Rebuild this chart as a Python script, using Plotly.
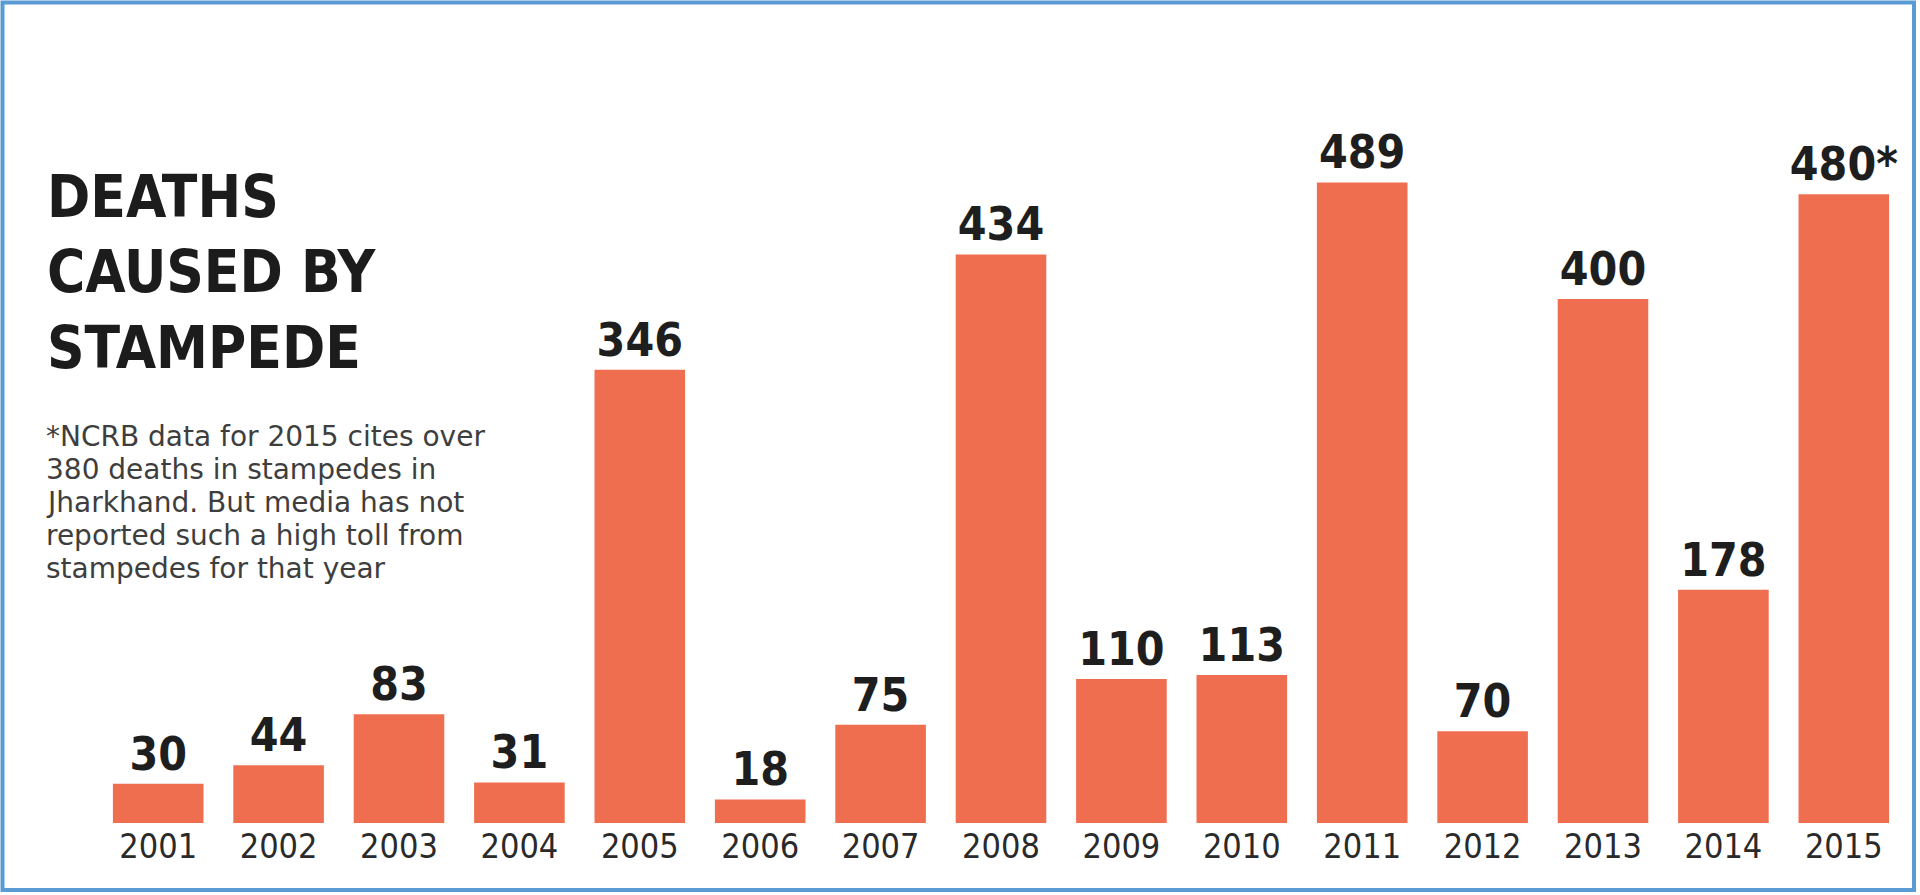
import plotly.graph_objects as go

# ---- data ----
years = [2001, 2002, 2003, 2004, 2005, 2006, 2007, 2008, 2009, 2010, 2011, 2012, 2013, 2014, 2015]
deaths = [30, 44, 83, 31, 346, 18, 75, 434, 110, 113, 489, 70, 400, 178, 480]
footnote_marks = ["", "", "", "", "", "", "", "", "", "", "", "", "", "", "*"]
year_labels = [str(y) for y in years]

title_lines = ["DEATHS", "CAUSED BY", "STAMPEDE"]
note_lines = [
    "*NCRB data for 2015 cites over",
    "380 deaths in stampedes in",
    "Jharkhand. But media has not",
    "reported such a high toll from",
    "stampedes for that year",
]

bar_labels = [f"{v}{m}" for v, m in zip(deaths, footnote_marks)]

# ---- geometry (pixels) ----
W, H = 1920, 895
ML, MR, MT, MB = 98, 16, 50, 72
PW, PH = W - ML - MR, H - MT - MB
Y_MAX = PH / 1.31

def px(x):
    return (x - ML) / PW

def py(y):
    return (H - MB - y) / PH

NARROW = "Liberation Sans Narrow, Arial Narrow, DejaVu Sans Condensed, Liberation Sans, Arial, sans-serif"

fig = go.Figure(
    go.Bar(
        x=years,
        y=deaths,
        text=bar_labels,
        textposition="outside",
        constraintext="none",
        textfont=dict(family=NARROW, size=46, color="#1e1e1e", weight="bold"),
        marker=dict(color="#F06E50", line=dict(width=0)),
        cliponaxis=False,
        hoverinfo="x+y",
    )
)

annotations = [dict(
    text="<br>".join(title_lines), x=px(45), y=py(272), xref="paper", yref="paper",
    xanchor="left", yanchor="middle", align="left", showarrow=False,
    font=dict(family=NARROW, size=58, color="#1c1c1c", weight="bold"),
)]

note_centers = [436, 469, 502, 535, 568]
for line, yc in zip(note_lines, note_centers):
    annotations.append(dict(
        text=line, x=px(44), y=py(yc), xref="paper", yref="paper",
        xanchor="left", yanchor="middle", showarrow=False,
        font=dict(family="DejaVu Sans, Liberation Sans, Arial, sans-serif", size=28, color="#3e3e3e"),
    ))

fig.update_layout(
    width=W, height=H,
    margin=dict(l=ML, r=MR, t=MT, b=MB),
    paper_bgcolor="white", plot_bgcolor="white",
    bargap=0.2475,
    showlegend=False,
    annotations=annotations,
    shapes=[dict(
        type="rect", xref="paper", yref="paper",
        x0=px(2.5), x1=px(1914), y0=py(890), y1=py(2.5),
        line=dict(color="#5B9BD5", width=4), fillcolor="rgba(0,0,0,0)", layer="above",
    )],
    xaxis=dict(
        range=[2000.5, 2015.5], tickmode="array", tickvals=years, ticktext=year_labels,
        showgrid=False, zeroline=False, showline=False, ticks="",
        tickfont=dict(family=NARROW, size=34, color="#2a2a2a"),
        fixedrange=True,
    ),
    yaxis=dict(
        range=[0, Y_MAX], visible=False, showgrid=False, zeroline=False, fixedrange=True,
    ),
)

fig.write_html(
    "out.html",
    config={"displayModeBar": False},
    post_script="document.body.style.margin='0px';document.body.style.overflow='hidden';",
)
